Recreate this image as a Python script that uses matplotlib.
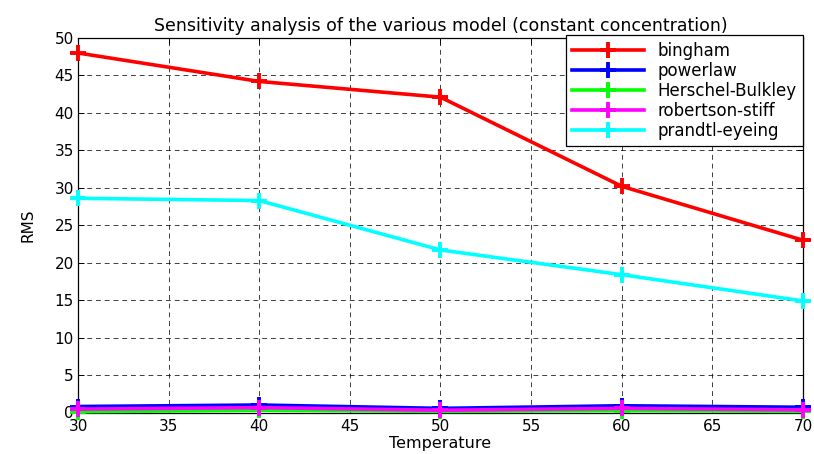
import matplotlib
matplotlib.use("Agg")
import matplotlib.pyplot as plt

# ── Data ─────────────────────────────────────────────
temperature = [30, 40, 50, 60, 70]
bingham     = [48.0, 44.2, 42.1, 30.2, 23.0]
powerlaw    = [0.8, 1.0, 0.55, 0.9, 0.7]
herschel    = [0.1, 0.3, 0.15, 0.25, 0.15]
robertson   = [0.45, 0.65, 0.3, 0.55, 0.35]
prandtl     = [28.6, 28.3, 21.7, 18.4, 14.9]

series = [
    ("bingham", bingham, "#ff0000"),
    ("powerlaw", powerlaw, "#0000ff"),
    ("Herschel-Bulkley", herschel, "#00ff00"),
    ("robertson-stiff", robertson, "#ff00ff"),
    ("prandtl-eyeing", prandtl, "#00ffff"),
]

FS = 10.5
plt.rcParams.update({
    "font.family": ["DejaVu Sans"],
    "font.size": FS,
})

fig = plt.figure(figsize=(8.14, 4.54), dpi=100, facecolor="white")
ax = fig.add_axes([78 / 814, 1 - 412.5 / 454, 725 / 814, 374.5 / 454])

for name, vals, col in series:
    ax.plot(temperature, vals, color=col, lw=2.6, marker="+", ms=11,
            mew=2.8, label=name, clip_on=False, zorder=3)

ax.set_xlim(30, 70)
ax.set_ylim(0, 50)
ax.set_xticks(range(30, 71, 5))
ax.set_yticks(range(0, 51, 5))
ax.grid(True, color="black", linestyle=(0, (5, 4)), lw=0.7, alpha=0.75)
ax.tick_params(direction="in", top=True, right=True, length=4, width=0.7,
               labelsize=11, pad=3)
ax.tick_params(axis="x", pad=5)
for s in ax.spines.values():
    s.set_linewidth(0.9)

ax.set_title("Sensitivity analysis of the various model (constant concentration)",
             fontsize=12.5, pad=5)
ax.set_xlabel("Temperature", fontsize=11.5, labelpad=1)
ax.set_ylabel("RMS", fontsize=11, labelpad=14)

leg = ax.legend(loc="upper right", bbox_to_anchor=(803 / 814, 1 - 35 / 454),
                bbox_transform=fig.transFigure, fontsize=12,
                fancybox=False, framealpha=1, edgecolor="black",
                handlelength=4.3, handletextpad=0.8, borderaxespad=0,
                labelspacing=0.12, borderpad=0.4)
leg.get_frame().set_linewidth(0.9)

fig.savefig("out.png", dpi=100, facecolor="white")
